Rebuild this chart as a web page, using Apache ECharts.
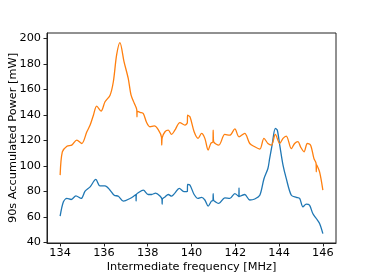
<!DOCTYPE html>
<html lang="en">
  <head>
    <meta charset="UTF-8" />
    <title>Accumulated power</title>
    <style>
      html, body { margin: 0; padding: 0; background: #fff; }
    </style>
  </head>
  <body>
    <div id="main" style="width: 374px; height: 274px"></div>
    <script src="https://cdn.jsdelivr.net/npm/echarts@6.0.0/dist/echarts.min.js"></script>
    <script>
      // orange curve (upper)
      const orangeFreq = [
        134.0, 134.1, 134.31, 134.53, 134.76, 134.99, 135.22, 135.37, 135.52, 135.67,
        135.87, 136.05, 136.28, 136.43, 136.58, 136.73, 136.92, 137.11, 137.24, 137.39,
        137.5, 137.51, 137.52, 137.65, 137.8, 137.95, 138.1, 138.3, 138.48, 138.63,
        138.64, 138.66, 138.79, 138.94, 139.09, 139.24, 139.47, 139.7, 139.81, 139.82,
        139.93, 140.12, 140.3, 140.46, 140.61, 140.76, 140.88, 140.98, 140.99, 141.01,
        141.25, 141.52, 141.75, 141.98, 142.17, 142.43, 142.66, 142.89, 143.12, 143.31,
        143.49, 143.65, 143.83, 144.03, 144.18, 144.33, 144.56, 144.71, 144.86, 144.98,
        145.14, 145.29, 145.44, 145.59, 145.69, 145.7, 145.71, 145.85, 146.0
      ];
      const orangePower = [
        92.8, 111, 115.5, 116.3, 120.2, 117.6, 126.8, 132, 139.8, 146.9,
        143, 150.3, 155.5, 166, 187, 196.7, 181.6, 168.6, 155.5, 149,
        144, 138.5, 143, 142, 141, 134, 130.7, 131.4, 128.5, 122.5,
        116.3, 122, 126.8, 128, 124.7, 128, 134, 132, 134, 139.8,
        138.5, 126.8, 121.6, 125.5, 121.6, 112.4, 117.6, 119, 128, 119,
        116.3, 124.7, 124.1, 129, 122.8, 125.5, 117.6, 115, 113.2, 121.6,
        117.6, 116.3, 124.7, 117.6, 121.6, 123.4, 113.5, 117.6, 119, 115,
        111.1, 117.6, 116.3, 105.9, 102, 95.4, 101, 95.4, 81
      ];

      // blue curve (lower)
      const blueFreq = [
        134.0, 134.15, 134.31, 134.5, 134.72, 134.96, 135.14, 135.37, 135.63, 135.82,
        136.05, 136.28, 136.47, 136.66, 136.89, 137.19, 137.42, 137.46, 137.47, 137.48,
        137.57, 137.8, 138.02, 138.18, 138.36, 138.56, 138.65, 138.66, 138.67, 138.79,
        138.94, 139.09, 139.24, 139.44, 139.67, 139.81, 139.82, 139.93, 140.12, 140.3,
        140.46, 140.61, 140.76, 140.91, 140.98, 140.99, 141.01, 141.1, 141.25, 141.52,
        141.75, 141.98, 142.16, 142.17, 142.18, 142.43, 142.66, 142.89, 143.12, 143.31,
        143.49, 143.57, 143.68, 143.83, 143.92, 144.03, 144.18, 144.33, 144.56, 144.79,
        144.94, 145.09, 145.24, 145.39, 145.54, 145.7, 145.85, 146.0
      ];
      const bluePower = [
        60.6, 71.9, 74.5, 73.7, 76.5, 74.5, 80.2, 83.6, 89.4, 84.4,
        84.4, 81, 77, 76.3, 72.4, 74.5, 77, 77.5, 72.5, 77.5,
        79, 81, 77.6, 77.6, 78.7, 76.5, 74, 70, 74, 75.7,
        77.6, 76.3, 78.7, 82.4, 79.8, 80, 85.5, 85, 77.6, 74.5,
        75.3, 73.3, 68.5, 72.4, 73, 78.3, 73, 71.8, 70.6, 75,
        74.5, 78.3, 76, 82.8, 76, 77.6, 73.3, 74.1, 77, 90,
        98, 105.9, 116.3, 129.4, 128, 116.3, 100.6, 90, 77, 75.3,
        74.5, 68, 70, 69.2, 62.7, 58.8, 54.9, 47
      ];

      const xTicks = [134, 136, 138, 140, 142, 144, 146];
      const yTicks = [40, 60, 80, 100, 120, 140, 160, 180, 200];

      function pairs(xs, ys) {
        return xs.map((x, i) => [x, ys[i]]);
      }

      const font = "DejaVu Sans";
      var chartDom = document.getElementById("main");
      var myChart = echarts.init(chartDom, null, { renderer: "canvas" });

      myChart.setOption({
        animation: false,
        grid: {
          left: 47,
          right: 38,
          top: 33,
          bottom: 31,
          outerBoundsMode: "none",
          containLabel: false,
          show: true,
          borderColor: "#222",
          borderWidth: 1,
          backgroundColor: "#fff",
        },
        xAxis: {
          type: "value",
          min: 133.4,
          max: 146.6,
          name: "Intermediate frequency [MHz]",
          nameLocation: "middle",
          nameGap: 19,
          nameMoveOverlap: false,
          nameTextStyle: { fontFamily: font, fontSize: 11.3, color: "#000" },
          splitLine: { show: false },
          axisLine: { show: true, onZero: false, lineStyle: { color: "#222" } },
          axisTick: {
            show: true,
            length: 3.5,
            customValues: xTicks,
            lineStyle: { color: "#222" },
          },
          axisLabel: {
            customValues: xTicks,
            fontFamily: font,
            fontSize: 11.3,
            color: "#000",
            margin: 5,
          },
        },
        yAxis: {
          type: "value",
          min: 39.6,
          max: 204.2,
          name: "90s Accumulated Power [mW]",
          nameLocation: "middle",
          nameGap: 28,
          nameMoveOverlap: false,
          nameTextStyle: { fontFamily: font, fontSize: 11.3, color: "#000" },
          splitLine: { show: false },
          axisLine: { show: true, onZero: false, lineStyle: { color: "#222" } },
          axisTick: {
            show: true,
            length: 3.5,
            customValues: yTicks,
            lineStyle: { color: "#222" },
          },
          axisLabel: {
            customValues: yTicks,
            fontFamily: font,
            fontSize: 11.3,
            color: "#000",
            margin: 6,
          },
        },
        series: [
          {
            type: "line",
            data: pairs(blueFreq, bluePower),
            showSymbol: false,
            smooth: 0.3,
            lineStyle: { color: "#1f77b4", width: 1.3 },
            itemStyle: { color: "#1f77b4" },
          },
          {
            type: "line",
            data: pairs(orangeFreq, orangePower),
            showSymbol: false,
            smooth: 0.3,
            lineStyle: { color: "#ff7f0e", width: 1.3 },
            itemStyle: { color: "#ff7f0e" },
          },
        ],
      });
    </script>
  </body>
</html>
